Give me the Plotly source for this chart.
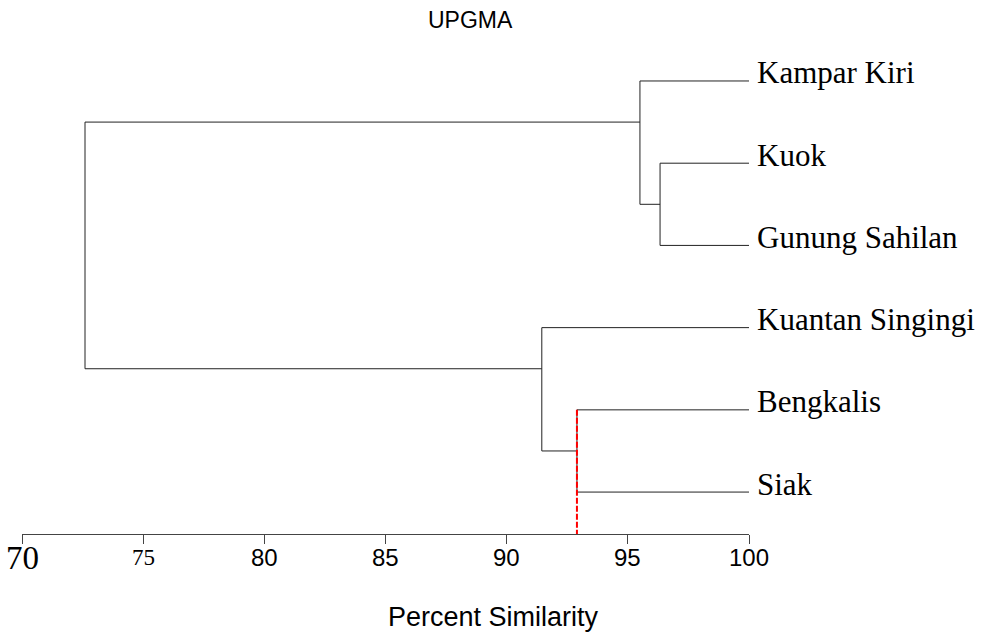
import plotly.graph_objects as go

# ---- data ----
leaves = ["Kampar Kiri", "Kuok", "Gunung Sahilan", "Kuantan Singingi", "Bengkalis", "Siak"]
merge_a = ["Kuok", "Bengkalis", "Kampar Kiri", "Kuantan Singingi", "C3"]
merge_b = ["Gunung Sahilan", "Siak", "C1", "C2", "C4"]
merge_names = ["C1", "C2", "C3", "C4", "ROOT"]
merge_similarity = [96.33, 92.9, 95.5, 91.45, 72.6]
leaf_similarity = 100
cut_level = 92.9

tick_values = [70, 75, 80, 85, 90, 95, 100]
tick_labels = ["70", "75", "80", "85", "90", "95", "100"]
tick_fonts = ["Liberation Serif", "Liberation Serif", "Liberation Sans", "Liberation Sans",
              "Liberation Sans", "Liberation Sans", "Liberation Sans"]
tick_sizes = [33, 23, 24, 24, 24, 24, 24]

title_text = "UPGMA"
axis_title = "Percent Similarity"

# ---- layout of dendrogram ----
nodes = {}
for i, name in enumerate(leaves):
    nodes[name] = {"x": leaf_similarity, "y": i, "leaves": [i]}

xs, ys = [], []
for name, a, b, s in zip(merge_names, merge_a, merge_b, merge_similarity):
    na, nb = nodes[a], nodes[b]
    xs += [na["x"], s, None]
    ys += [na["y"], na["y"], None]
    xs += [nb["x"], s, None]
    ys += [nb["y"], nb["y"], None]
    xs += [s, s, None]
    ys += [na["y"], nb["y"], None]
    lv = na["leaves"] + nb["leaves"]
    nodes[name] = {"x": s, "y": (lv[0] + lv[1]) / 2, "leaves": lv}

y_bottom = 5.51
y_top = -0.62

fig = go.Figure()
fig.add_trace(go.Scatter(x=xs, y=ys, mode="lines",
                         line=dict(color="#222222", width=1),
                         hoverinfo="skip", showlegend=False))
cut_leaf_y = nodes["Bengkalis"]["y"]
fig.add_trace(go.Scatter(x=[cut_level, cut_level], y=[cut_leaf_y, y_bottom + 0.11],
                         mode="lines", line=dict(color="#ff0000", width=2, dash="6px,2px"),
                         hoverinfo="skip", showlegend=False, cliponaxis=False))

annotations = []
for i, name in enumerate(leaves):
    annotations.append(dict(x=leaf_similarity, y=i, xref="x", yref="y", text=name,
                            showarrow=False, xanchor="left", yanchor="middle",
                            xshift=6, yshift=8,
                            font=dict(family="Liberation Serif", size=31, color="black")))
for v, t, f, s in zip(tick_values, tick_labels, tick_fonts, tick_sizes):
    annotations.append(dict(x=v, y=-0.0476, xref="x", yref="paper", text=t,
                            showarrow=False, xanchor="center", yanchor="middle",
                            font=dict(family=f, size=s, color="black")))
annotations.append(dict(x=(493 - 22) / 727, y=(534 - 617) / 504, xref="paper", yref="paper",
                        text=axis_title, showarrow=False, xanchor="center", yanchor="middle",
                        font=dict(family="Liberation Sans", size=27, color="black")))
annotations.append(dict(x=(470 - 22) / 727, y=(534 - 20) / 504, xref="paper", yref="paper",
                        text=title_text, showarrow=False, xanchor="center", yanchor="middle",
                        font=dict(family="Liberation Sans", size=23, color="black")))

fig.update_layout(
    width=984, height=633,
    margin=dict(l=22, r=235, t=30, b=99),
    paper_bgcolor="white", plot_bgcolor="white",
    xaxis=dict(range=[70, 100], tickvals=tick_values, showticklabels=False,
               ticks="outside", ticklen=9, tickwidth=1, tickcolor="#444444",
               showline=True, linecolor="#444444", linewidth=1,
               showgrid=False, zeroline=False, fixedrange=True),
    yaxis=dict(range=[y_bottom, y_top], visible=False, showgrid=False, zeroline=False),
    annotations=annotations,
    showlegend=False,
)

fig.write_html("out.html")
